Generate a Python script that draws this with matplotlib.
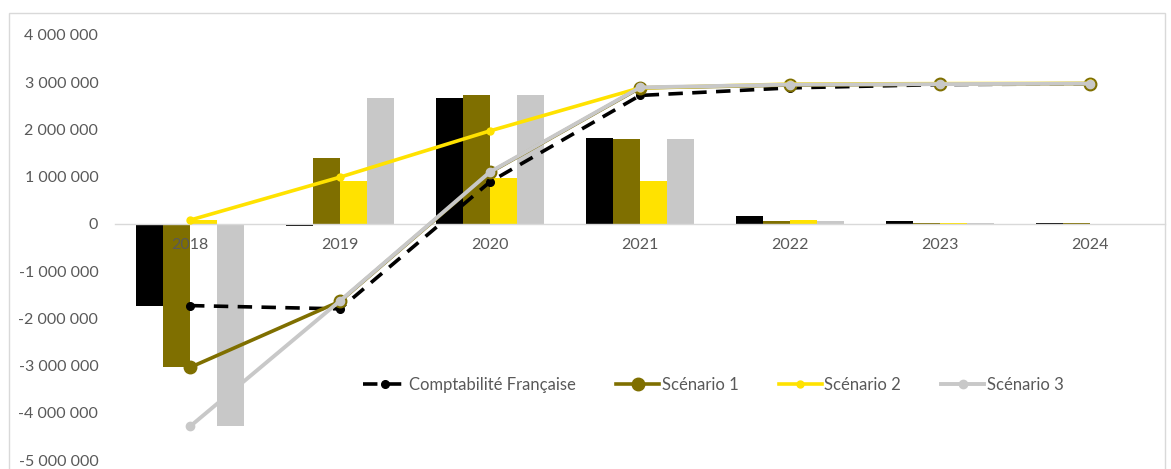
import matplotlib
matplotlib.use("Agg")
import numpy as np
import matplotlib.pyplot as plt
from matplotlib.ticker import FuncFormatter, MultipleLocator
from matplotlib.patches import Rectangle

# --- Data ---
years = ["2018", "2019", "2020", "2021", "2022", "2023", "2024"]

# yearly flows (bars)
bar_compta = [-1730000, -40000, 2660000, 1820000, 175000, 70000, 12000]
bar_s1 = [-3040000, 1400000, 2730000, 1790000, 60000, 15000, 10000]
bar_s2 = [80000, 910000, 980000, 910000, 80000, 10000, 5000]
bar_s3 = [-4290000, 2660000, 2730000, 1790000, 60000, 10000, 5000]

# cumulative (lines)
cum_compta = [-1730000, -1800000, 890000, 2720000, 2880000, 2950000, 2965000]
cum_s1 = [-3040000, -1640000, 1090000, 2880000, 2940000, 2960000, 2970000]
cum_s2 = [80000, 990000, 1970000, 2880000, 2960000, 2970000, 2975000]
cum_s3 = [-4290000, -1630000, 1100000, 2890000, 2950000, 2960000, 2970000]

labels = ["Comptabilité Française", "Scénario 1", "Scénario 2", "Scénario 3"]

# --- Style ---
c_black = "#000000"
c_olive = "#7F6F00"
c_yellow = "#FFE200"
c_gray = "#C8C8C8"
txt = "#595959"

plt.rcParams["font.family"] = ["Lato", "DejaVu Sans"]

fig = plt.figure(figsize=(11.71, 4.69), dpi=100)
ax = fig.add_axes([115 / 1171, 9 / 469, 1050 / 1171, 425 / 469])

x = np.arange(len(years))
w = 0.18
for i, (vals, col) in enumerate(zip([bar_compta, bar_s1, bar_s2, bar_s3],
                                    [c_black, c_olive, c_yellow, c_gray])):
    ax.bar(x + (i - 1.5) * w, vals, width=w, color=col, zorder=1)

ax.plot(x, cum_compta, color=c_black, lw=2.6, ls=(0, (4, 2.6)),
        marker="o", ms=5.5, label=labels[0], zorder=4)
ax.plot(x, cum_s1, color=c_olive, lw=2.6, marker="o", ms=9,
        mfc=c_olive, mec=c_olive, label=labels[1], zorder=5)
ax.plot(x, cum_s2, color=c_yellow, lw=2.6, marker="o", ms=5,
        label=labels[2], zorder=6)
ax.plot(x, cum_s3, color=c_gray, lw=2.8, marker="o", ms=6,
        label=labels[3], zorder=7)

# --- Axes ---
ax.set_xlim(-0.5, len(years) - 0.5)
ax.set_ylim(-5000000, 4000000)
ax.yaxis.set_major_locator(MultipleLocator(1000000))
ax.yaxis.set_major_formatter(
    FuncFormatter(lambda v, p: f"{int(round(v)):,}".replace(",", " ")))
ax.set_xticks(x)
ax.set_xticklabels(years)

for s in ["top", "right", "left"]:
    ax.spines[s].set_visible(False)
ax.spines["bottom"].set_position(("data", 0))
ax.spines["bottom"].set_color("#D9D9D9")
ax.spines["bottom"].set_linewidth(1)

ax.tick_params(axis="both", length=0, labelsize=11.5, labelcolor=txt)
ax.tick_params(axis="x", pad=10)
ax.tick_params(axis="y", pad=12)

ax.legend(loc="center", bbox_to_anchor=(0.57, 0.176), ncol=4, frameon=False,
          fontsize=12, labelcolor=txt, handlelength=2.6, handletextpad=0.15,
          columnspacing=2.4)

# chart border
fig.patches.append(Rectangle((9 / 1171, -0.05), 1156 / 1171, 1.05 - 13 / 469,
                             transform=fig.transFigure, fill=False,
                             edgecolor="#D9D9D9", lw=1))

plt.savefig("out.png", dpi=100)
